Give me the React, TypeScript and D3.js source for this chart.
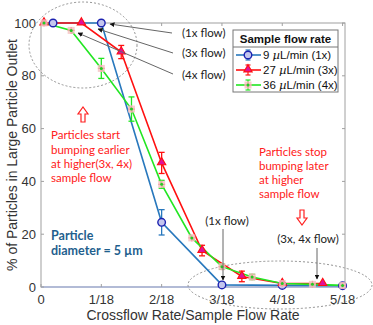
import React from 'react';
import * as d3 from 'd3';

// x values are in units of 1/18
const xTicks = [0, 1, 2, 3, 4, 5];
const xTickLabels = ['0', '1/18', '2/18', '3/18', '4/18', '5/18'];
const yTicks = [0, 20, 40, 60, 80, 100];

const flow1xX = [0.2, 1, 2, 3, 4, 5];
const flow1xY = [100, 100, 24.5, 0.8, 0.6, 0.5];
const flow1xErr = [0, 0, 4.8, 0, 0, 0];

const flow3xX = [0.05, 0.67, 1.33, 2, 2.67, 3.33, 4, 4.67];
const flow3xY = [100, 100, 89, 47, 13.8, 4, 1.3, 1.3];
const flow3xErr = [0, 0, 2.5, 4, 2, 2, 0.5, 0];

const flow4xX = [0.05, 0.5, 1, 1.5, 2, 2.5, 3, 3.5, 4, 4.5, 5];
const flow4xY = [100, 97.2, 82.8, 67.4, 38.9, 18.6, 7.7, 3.8, 1.3, 1, 0.6];
const flow4xErr = [0, 0.5, 3.8, 4.6, 1.5, 0.5, 1, 1, 0.3, 0, 0];

const legendLabels = ['9', '27', '36'];
const legendSuffix = ['L/min (1x)', 'L/min (3x)', 'L/min (4x)'];

const W = 373;
const H = 325;
const font = 'Liberation Sans, Arial, sans-serif';
const noteFont = 'Lato, Open Sans, sans-serif';

const x = d3.scaleLinear().domain([0, 0.28]).range([41, 345]);
const y = d3.scaleLinear().domain([0, 100]).range([287, 23]);

const zip = (xs: number[], ys: number[], es: number[]) =>
  xs.map((v, i) => ({ x: v / 18, y: ys[i], e: es[i] }));

const series = [
  { data: zip(flow1xX, flow1xY, flow1xErr), line: '#2878bd', bar: '#2878bd', kind: 'circle' },
  { data: zip(flow3xX, flow3xY, flow3xErr), line: '#ff1010', bar: '#ff1010', kind: 'tri' },
  { data: zip(flow4xX, flow4xY, flow4xErr), line: '#22e622', bar: '#22e622', kind: 'star' },
];

const lineGen = d3.line<{ x: number; y: number }>().x(d => x(d.x)).y(d => y(d.y));

function Marker({ kind, cx, cy }: { kind: string; cx: number; cy: number }) {
  if (kind === 'circle') {
    return <circle cx={cx} cy={cy} r={3.8} fill="#c4c6ee" stroke="#1c22b0" strokeWidth={1.4} />;
  }
  if (kind === 'tri') {
    const p = d3.symbol(d3.symbolTriangle, 30)();
    return <path d={p || ''} transform={`translate(${cx},${cy - 0.5})`} fill="#e0109a" stroke="#ff1010" strokeWidth={1.1} />;
  }
  return (
    <g transform={`translate(${cx},${cy})`}>
      <rect x={-3.5} y={-3.5} width={7} height={7} fill="#f5c0c0" opacity={0.8} />
      <path d="M-3.5,0H3.5M0,-3.5V3.5" stroke="#f0a8a8" strokeWidth={1.3} />
      <circle r={1.5} fill="#22cc22" />
    </g>
  );
}

function ErrorBar({ cx, cy, e, color }: { cx: number; cy: number; e: number; color: string }) {
  if (e < 1) return null;
  const y0 = y(cy - e);
  const y1 = y(cy + e);
  const px = x(cx);
  return (
    <g stroke={color} strokeWidth={1.3}>
      <line x1={px} x2={px} y1={y0} y2={y1} />
      <line x1={px - 3} x2={px + 3} y1={y0} y2={y0} />
      <line x1={px - 3} x2={px + 3} y1={y1} y2={y1} />
    </g>
  );
}

// hollow block arrow, pointing up (dir=-1) or down (dir=1)
function BlockArrow({ cx, cy, dir }: { cx: number; cy: number; dir: number }) {
  const pts = [[-2, -7], [2, -7], [2, 1], [5, 1], [0, 8], [-5, 1], [-2, 1]];
  const d = pts.map(([px, py], i) => (i ? 'L' : 'M') + (cx + px) + ',' + (cy + py * dir)).join('') + 'Z';
  return <path d={d} fill="#fff" stroke="#ff2020" strokeWidth={1.2} />;
}

export default function App() {
  const left = x.range()[0];
  const right = x.range()[1];
  const top = y.range()[1];
  const bottom = y.range()[0];

  return (
    <svg width={W} height={H} style={{ position: 'absolute', left: 0, top: 0, background: '#fff' }}>
      <defs>
        <marker id="ah" viewBox="0 0 10 10" refX="9" refY="5" markerWidth="5" markerHeight="5" orient="auto-start-reverse">
          <path d="M0,0L10,5L0,10z" fill="#111" />
        </marker>
      </defs>

      {/* axes box */}
      <rect x={left} y={top} width={right - left} height={bottom - top} fill="none" stroke="#a0a0a0" strokeWidth={1} />
      <line x1={left} x2={right} y1={bottom} y2={bottom} stroke="#a8b4d8" strokeWidth={1.4} />
      {yTicks.map(t => (
        <g key={'yt' + t}>
          <line x1={left} x2={left + 3} y1={y(t)} y2={y(t)} stroke="#a0a0a0" />
          <line x1={right} x2={right - 3} y1={y(t)} y2={y(t)} stroke="#a0a0a0" />
          <text x={left - 5} y={y(t) + 4.5} textAnchor="end" fontSize={13} fontFamily={font} fill="#333">{t}</text>
        </g>
      ))}
      {xTicks.map((t, i) => (
        <g key={'xt' + t}>
          <line x1={x(t / 18)} x2={x(t / 18)} y1={bottom} y2={bottom - 3} stroke="#a0a0a0" />
          <line x1={x(t / 18)} x2={x(t / 18)} y1={top} y2={top + 3} stroke="#a0a0a0" />
          <text x={x(t / 18)} y={bottom + 17} textAnchor="middle" fontSize={13} fontFamily={font} fill="#333">{xTickLabels[i]}</text>
        </g>
      ))}

      <text x={193} y={320} textAnchor="middle" fontSize={14} fontFamily={font} fill="#333">Crossflow Rate/Sample Flow Rate</text>
      <text transform={`translate(17,${(top + bottom) / 2}) rotate(-90)`} textAnchor="middle" fontSize={14} fontFamily={font} fill="#333">% of Particles in Large Particle Outlet</text>

      {/* dashed ellipses */}
      <ellipse cx={83} cy={45} rx={54} ry={43} fill="none" stroke="#888" strokeDasharray="2,2" strokeWidth={0.9} />
      <ellipse cx={280} cy={285} rx={92} ry={24} fill="none" stroke="#888" strokeDasharray="2,2" strokeWidth={0.9} />

      {/* series */}
      {series.map((s, i) => (
        <g key={'s' + i}>
          <path d={lineGen(s.data) || ''} fill="none" stroke={s.line} strokeWidth={1.6} />
          {s.data.map((d, j) => <ErrorBar key={j} cx={d.x} cy={d.y} e={d.e} color={s.bar} />)}
        </g>
      ))}
      {series.map((s, i) => (
        <g key={'m' + i}>
          {s.data.map((d, j) => <Marker key={j} kind={s.kind} cx={x(d.x)} cy={y(d.y)} />)}
        </g>
      ))}

      {/* arrows */}
      <g stroke="#666" strokeWidth={1}>
        <line x1={172} y1={33} x2={110} y2={24} markerEnd="url(#ah)" />
        <line x1={173} y1={53} x2={98} y2={29} markerEnd="url(#ah)" />
        <line x1={173} y1={74} x2={78} y2={33} markerEnd="url(#ah)" />
        <line x1={223} y1={229} x2={223} y2={280} markerEnd="url(#ah)" />
        <line x1={317} y1={248} x2={317} y2={279} markerEnd="url(#ah)" />
      </g>
      <g fontSize={11.5} fontFamily={noteFont} fill="#222">
        <text x={182} y={37}>(1x flow)</text>
        <text x={182} y={57}>(3x flow)</text>
        <text x={182} y={79}>(4x flow)</text>
        <text x={227} y={225} textAnchor="middle">(1x flow)</text>
        <text x={308} y={243} textAnchor="middle">(3x, 4x flow)</text>
      </g>

      {/* red notes */}
      <BlockArrow cx={83} cy={115} dir={-1} />
      <BlockArrow cx={302} cy={217} dir={1} />
      <g fontSize={11.5} fontFamily={noteFont} fill="#ff2020">
        <text x={51} y={139}>Particles start</text>
        <text x={51} y={153.5}>bumping earlier</text>
        <text x={51} y={168}>at higher(3x, 4x)</text>
        <text x={51} y={182}>sample flow</text>
        <text x={259} y={156}>Particles stop</text>
        <text x={259} y={170}>bumping later</text>
        <text x={259} y={184}>at higher</text>
        <text x={259} y={198}>sample flow</text>
      </g>

      <g fontSize={12.5} fontFamily={noteFont} fontWeight="bold" fill="#1f5f8e">
        <text x={51} y={240}>Particle</text>
        <text x={51} y={255}>diameter = 5 µm</text>
      </g>

      {/* legend */}
      <g>
        <rect x={233} y={30} width={105} height={62} fill="#fff" stroke="#777" strokeWidth={1} />
        <line x1={233} x2={338} y1={47} y2={47} stroke="#777" />
        <text x={285.5} y={43} textAnchor="middle" fontSize={11.5} fontWeight="bold" fontFamily={font} fill="#111">Sample flow rate</text>
        {series.map((s, i) => {
          const ly = 55 + i * 15;
          return (
            <g key={'l' + i}>
              <line x1={236} x2={261} y1={ly} y2={ly} stroke={s.line} strokeWidth={1.6} />
              <g stroke={s.bar} strokeWidth={1.2}>
                <line x1={248} x2={248} y1={ly - 5} y2={ly + 5} />
                <line x1={245.5} x2={250.5} y1={ly - 5} y2={ly - 5} />
                <line x1={245.5} x2={250.5} y1={ly + 5} y2={ly + 5} />
              </g>
              <Marker kind={s.kind} cx={248} cy={ly} />
              <text x={263} y={ly + 4} fontSize={11.5} fontFamily={font} fill="#111">
                {legendLabels[i] + ' '}
                <tspan fontStyle="italic" fontFamily="DejaVu Serif, serif">µ</tspan>
                {legendSuffix[i]}
              </text>
            </g>
          );
        })}
      </g>
    </svg>
  );
}
